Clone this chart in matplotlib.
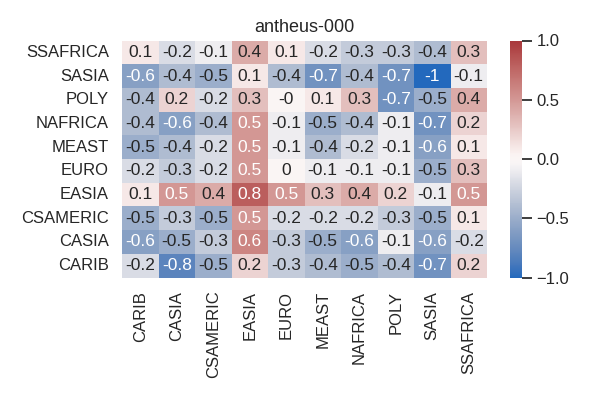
import matplotlib
matplotlib.use("Agg")
import matplotlib.pyplot as plt
import numpy as np
import pandas as pd
import seaborn as sns

REGIONS = ["CARIB", "CASIA", "CSAMERIC", "EASIA", "EURO",
           "MEAST", "NAFRICA", "POLY", "SASIA", "SSAFRICA"]
ROWS = REGIONS[::-1]

# rows top -> bottom: SSAFRICA ... CARIB
SSAFRICA = [0.1, -0.2, -0.1, 0.4, 0.1, -0.2, -0.3, -0.3, -0.4, 0.3]
SASIA = [-0.6, -0.4, -0.5, 0.1, -0.4, -0.7, -0.4, -0.7, -1.0, -0.1]
POLY = [-0.4, 0.2, -0.2, 0.3, -0.0, 0.1, 0.3, -0.7, -0.5, 0.4]
NAFRICA = [-0.4, -0.6, -0.4, 0.5, -0.1, -0.5, -0.4, -0.1, -0.7, 0.2]
MEAST = [-0.5, -0.4, -0.2, 0.5, -0.1, -0.4, -0.2, -0.1, -0.6, 0.1]
EURO = [-0.2, -0.3, -0.2, 0.5, 0.0, -0.1, -0.1, -0.1, -0.5, 0.3]
EASIA = [0.1, 0.5, 0.4, 0.8, 0.5, 0.3, 0.4, 0.2, -0.1, 0.5]
CSAMERIC = [-0.5, -0.3, -0.5, 0.5, -0.2, -0.2, -0.2, -0.3, -0.5, 0.1]
CASIA = [-0.6, -0.5, -0.3, 0.6, -0.3, -0.5, -0.6, -0.1, -0.6, -0.2]
CARIB = [-0.2, -0.8, -0.5, 0.2, -0.3, -0.4, -0.5, -0.4, -0.7, 0.2]

CBAR_TICKS = [-1.0, -0.5, 0.0, 0.5, 1.0]

sns.set_theme(style="white")
plt.rcParams["font.family"] = ["Liberation Sans", "DejaVu Sans"]

df = pd.DataFrame([SSAFRICA, SASIA, POLY, NAFRICA, MEAST, EURO,
                   EASIA, CSAMERIC, CASIA, CARIB],
                  index=ROWS, columns=REGIONS)

W, H = 600, 400
fig, ax = plt.subplots(figsize=(6, 4), dpi=100)
sns.heatmap(df, ax=ax, cmap="vlag", vmin=-1, vmax=1, annot=True, fmt="g",
            annot_kws={"size": 12.5},
            cbar_kws={"ticks": CBAR_TICKS})
ax.set_title("antheus-000", fontsize=13)
ax.tick_params(labelsize=12)
cbar = ax.collections[0].colorbar
cbar.ax.tick_params(labelsize=12, length=7)
cbar.ax.yaxis.set_major_formatter(matplotlib.ticker.FuncFormatter(
    lambda v, p: f"{v:.1f}".replace("-", "\u2212")))

# place heatmap and colorbar like the reference
top, bot = 40.5, 277.5
ax.set_position([122 / W, 1 - bot / H, (487 - 122) / W, (bot - top) / H])
cbar.ax.set_position([510 / W, 1 - bot / H, 12 / W, (bot - top) / H])
fig.savefig("out.png", dpi=100)
